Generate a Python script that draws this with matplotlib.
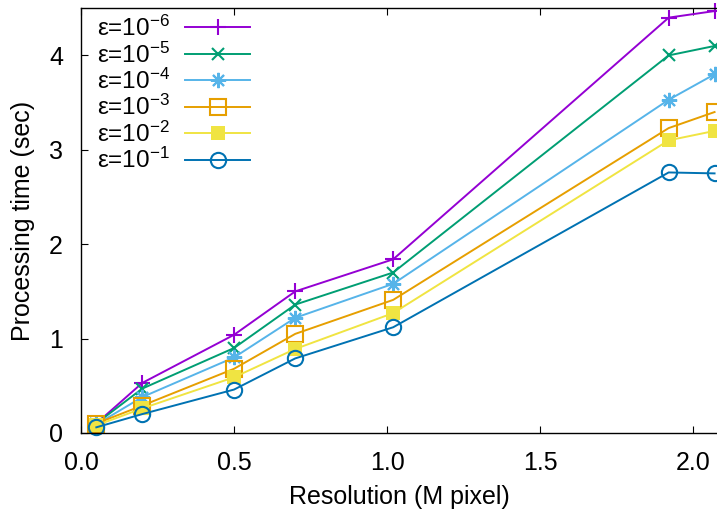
import matplotlib
matplotlib.use('Agg')
import matplotlib.pyplot as plt

plt.rcParams['font.family'] = ['Liberation Sans', 'DejaVu Sans']
plt.rcParams['mathtext.fontset'] = 'custom'
plt.rcParams['mathtext.rm'] = 'Liberation Sans'
plt.rcParams['mathtext.it'] = 'Liberation Sans'

# ── data ──────────────────────────────────────────
resolution = [0.05, 0.2, 0.5, 0.7, 1.02, 1.92, 2.07]

t_e6 = [0.10, 0.53, 1.04, 1.50, 1.84, 4.40, 4.47]
t_e5 = [0.10, 0.47, 0.90, 1.36, 1.70, 4.00, 4.10]
t_e4 = [0.09, 0.38, 0.80, 1.22, 1.58, 3.53, 3.80]
t_e3 = [0.10, 0.29, 0.68, 1.05, 1.41, 3.23, 3.40]
t_e2 = [0.08, 0.26, 0.59, 0.89, 1.27, 3.10, 3.20]
t_e1 = [0.06, 0.20, 0.46, 0.79, 1.12, 2.76, 2.75]

labels = [r'ε=10$^{-6}$', r'ε=10$^{-5}$', r'ε=10$^{-4}$',
          r'ε=10$^{-3}$', r'ε=10$^{-2}$', r'ε=10$^{-1}$']

xticks = [0.0, 0.5, 1.0, 1.5, 2.0]
xticklabels = ['0.0', '0.5', '1.0', '1.5', '2.0']
yticks = [0, 1, 2, 3, 4]

# gnuplot default palette
colors = ['#9400d3', '#009e73', '#56b4e9', '#e69f00', '#f0e442', '#0072b2']
styles = [
    dict(marker='+', markersize=11, markeredgewidth=1.5),
    dict(marker='x', markersize=9, markeredgewidth=1.5),
    dict(marker=(8, 2, 0), markersize=11, markeredgewidth=1.5),
    dict(marker='s', markersize=11, markerfacecolor='none', markeredgewidth=1.5),
    dict(marker='s', markersize=10, markeredgewidth=0),
    dict(marker='o', markersize=11, markerfacecolor='none', markeredgewidth=1.5),
]

fig = plt.figure(figsize=(7.17, 5.13), dpi=100)
ax = fig.add_axes([0.113, 0.156, 0.887, 0.828])

series = [t_e6, t_e5, t_e4, t_e3, t_e2, t_e1]
for ys, lbl, clr, st in zip(series, labels, colors, styles):
    ax.plot(resolution, ys, color=clr, lw=1.4, label=lbl, clip_on=False, **st)

ax.set_xlim(0, 2.078)
ax.set_ylim(0, 4.5)
ax.set_xticks(xticks)
ax.set_xticklabels(xticklabels)
ax.set_yticks(yticks)
ax.tick_params(direction='in', length=5, width=0.8, labelsize=18,
               top=True, right=False)
ax.tick_params(axis='x', pad=13)
ax.tick_params(axis='y', pad=13)
ax.spines['right'].set_visible(False)
for sp in ['left', 'bottom', 'top']:
    ax.spines[sp].set_linewidth(1.0)

ax.set_xlabel('Resolution (M pixel)', fontsize=18, labelpad=7)
ax.set_ylabel('Processing time (sec)', fontsize=18, labelpad=10)

ax.legend(loc='upper left', frameon=False, markerfirst=False, fontsize=17.5,
          handlelength=2.7, labelspacing=0.05, borderaxespad=0.0,
          handletextpad=0.6, bbox_to_anchor=(0.01, 1.005))

plt.savefig('out.png', dpi=100)
